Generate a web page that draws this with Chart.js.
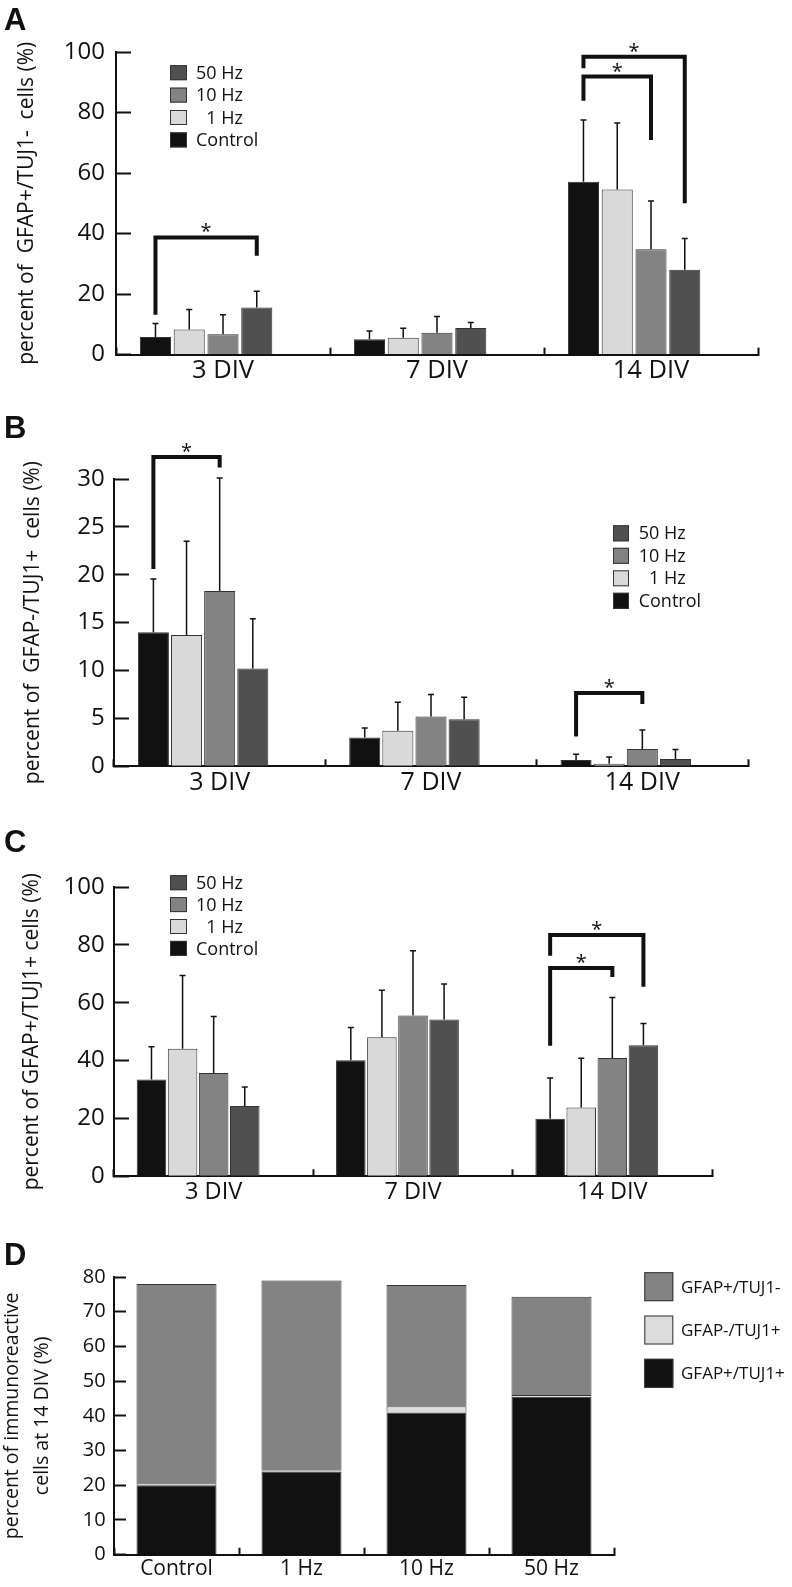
<!DOCTYPE html>
<html>
<head>
<meta charset="utf-8">
<script src="https://cdn.jsdelivr.net/npm/chart.js@4.4.1/dist/chart.umd.min.js"></script>
<style>
  body { margin: 0; background: #fff; width: 792px; height: 1587px; overflow: hidden; position: relative; }
  .panel { position: absolute; left: 0; width: 792px; }
</style>
</head>
<body>
<div class="panel" style="top:0;height:395px"><canvas id="chartA"></canvas></div>
<div class="panel" style="top:390px;height:415px"><canvas id="chartB"></canvas></div>
<div class="panel" style="top:800px;height:415px"><canvas id="chartC"></canvas></div>
<div class="panel" style="top:1200px;height:387px"><canvas id="chartD"></canvas></div>
<script>
// categories and series
const divLabels = ['3 DIV', '7 DIV', '14 DIV'];
const freqLabels = ['Control', '1 Hz', '10 Hz', '50 Hz'];

// one row per frequency, one value per DIV (mean and upper SD)
const aMean = [[5.8, 5.1, 57.1], [8.3, 5.6, 54.6], [6.7, 7.2, 34.8], [15.6, 8.8, 28.0]];
const aSD   = [[4.5, 2.7, 20.4], [6.6, 3.1, 21.9], [6.5, 5.4, 16.0], [5.3, 1.8, 10.4]];
const bMean = [[14.0, 3.0, 0.67], [13.7, 3.7, 0.27], [18.3, 5.2, 1.8], [10.2, 4.9, 0.75]];
const bSD   = [[5.55, 1.0, 0.6], [9.8, 3.0, 0.7], [11.8, 2.3, 2.0], [5.2, 2.3, 1.0]];
const cMean = [[33.5, 40.1, 19.9], [44.1, 48.1, 23.8], [35.7, 55.6, 40.9], [24.3, 54.2, 45.3]];
const cSD   = [[11.3, 11.3, 14.1], [25.3, 16.2, 17.0], [19.5, 22.4, 20.9], [6.6, 12.3, 7.5]];

// significance brackets: [DIV index, from series, to series, top, from leg end, to leg end]
const aSig = [[0, 0, 3, 38.7, 13.2, 32.7], [2, 0, 2, 91.9, 83.9, 70.9], [2, 0, 3, 98.4, 94.6, 50.0]];
const bSig = [[0, 0, 2, 32.3, 20.6, 31.2], [2, 0, 2, 7.65, 3.1, 6.5]];
const cSig = [[2, 0, 2, 72.0, 45.1, 68.9], [2, 0, 3, 83.4, 76.2, 65.5]];

// panel D: cell types at 14 DIV, stacked
const dLabels = ['GFAP+/TUJ1+', 'GFAP-/TUJ1+', 'GFAP+/TUJ1-'];
const dDouble = [20.0, 24.0, 41.0, 45.5];
const dNeuron = [0.6, 0.2, 1.8, 0.5];
const dGlia   = [57.4, 54.8, 34.9, 28.3];

const freqColors = ['#111111', '#d9d9d9', '#838383', '#505050'];
const dColors = ['#111111', '#dcdcdc', '#838383'];
const ink = '#111';
const font = '"Open Sans"';

// error bars, brackets, legend and panel letter
const extras = {
  id: 'extras',
  afterDatasetsDraw(chart) {
    const ctx = chart.ctx, y = chart.scales.y;
    ctx.save();
    ctx.strokeStyle = ink;
    ctx.lineWidth = 1.5;
    chart.data.datasets.forEach((ds, i) => {
      if (!ds.errors) return;
      chart.getDatasetMeta(i).data.forEach((bar, j) => {
        const top = y.getPixelForValue(ds.data[j] + ds.errors[j]);
        ctx.beginPath();
        ctx.moveTo(bar.x, bar.y);
        ctx.lineTo(bar.x, top);
        ctx.moveTo(bar.x - 3, top);
        ctx.lineTo(bar.x + 3, top);
        ctx.stroke();
      });
    });
    ctx.restore();
  },
  afterDraw(chart, args, opts) {
    const ctx = chart.ctx, y = chart.scales.y;
    ctx.save();
    ctx.strokeStyle = ink;
    ctx.fillStyle = ink;
    ctx.lineWidth = 4;
    ctx.lineJoin = 'miter';
    ctx.font = '20px ' + font;
    ctx.textAlign = 'center';
    ctx.textBaseline = 'alphabetic';
    (opts.brackets || []).forEach(([cat, a, b, top, aEnd, bEnd]) => {
      const xa = chart.getDatasetMeta(a).data[cat].x;
      const xb = chart.getDatasetMeta(b).data[cat].x;
      const ty = y.getPixelForValue(top);
      ctx.beginPath();
      ctx.moveTo(xa, y.getPixelForValue(aEnd));
      ctx.lineTo(xa, ty);
      ctx.lineTo(xb, ty);
      ctx.lineTo(xb, y.getPixelForValue(bEnd));
      ctx.stroke();
      ctx.fillText('*', (xa + xb) / 2, ty + 1);
    });

    const lg = opts.legend;
    if (lg) {
      ctx.lineWidth = 1;
      ctx.strokeStyle = '#333';
      ctx.textAlign = 'left';
      ctx.textBaseline = 'middle';
      ctx.font = lg.size + 'px ' + font;
      const items = chart.data.datasets.filter(ds => ds.label).reverse();
      items.forEach((ds, k) => {
        const cy = lg.y + k * lg.step;
        ctx.fillStyle = ds.backgroundColor;
        ctx.fillRect(lg.x, cy - lg.h / 2, lg.w, lg.h);
        ctx.strokeRect(lg.x + 0.5, cy - lg.h / 2 + 0.5, lg.w - 1, lg.h - 1);
        ctx.fillStyle = ink;
        ctx.fillText(ds.legendText || ds.label, lg.textX, cy + 1);
      });
    }

    ctx.fillStyle = ink;
    ctx.textAlign = 'left';
    ctx.textBaseline = 'alphabetic';
    ctx.font = 'bold 31px "Liberation Sans"';
    ctx.fillText(opts.letter, 4, opts.letterY);
    ctx.restore();
  }
};

function axes(o) {
  return {
    x: {
      grid: { drawOnChartArea: false, offset: true, tickLength: -7, tickWidth: 2, tickColor: ink },
      border: { color: ink, width: 2 },
      ticks: { color: ink, padding: o.xPad, font: { family: font, size: o.xSize } },
      stacked: !!o.stacked,
      afterFit: s => { s.height = o.xHeight; }
    },
    y: {
      min: 0, max: o.max,
      stacked: !!o.stacked,
      ticks: { stepSize: o.step, color: ink, padding: o.yPad, font: { family: font, size: o.ySize } },
      grid: { drawOnChartArea: false, tickLength: -o.tick, tickWidth: 2, tickColor: ink },
      border: { color: ink, width: 2 },
      title: {
        display: true, text: o.title, color: ink,
        font: { family: font, size: o.titleSize, lineHeight: o.titleLine || 1.2 },
        padding: { top: o.titlePad, bottom: 0 }
      },
      afterFit: s => { s.width = o.yWidth; }
    }
  };
}

function grouped(id, means, sds, sig, o) {
  const datasets = freqLabels.map((label, i) => ({
    label: label,
    legendText: label === '1 Hz' ? '\u20071 Hz' : label,
    data: means[i],
    errors: sds[i],
    backgroundColor: freqColors[i],
    borderColor: '#333',
    borderWidth: 1,
    barPercentage: o.barPct,
    categoryPercentage: o.catPct
  }));
  // empty fifth slot: the groups in the original sit left of the category centre
  datasets.push({ label: '', data: divLabels.map(() => null), barPercentage: o.barPct, categoryPercentage: o.catPct });

  return new Chart(document.getElementById(id), {
    type: 'bar',
    data: { labels: divLabels, datasets: datasets },
    options: {
      responsive: true,
      maintainAspectRatio: false,
      animation: false,
      layout: { padding: { top: o.padTop, right: o.padRight, left: 0, bottom: 0 } },
      scales: axes(o),
      plugins: {
        legend: { display: false },
        tooltip: { enabled: false },
        extras: { brackets: sig, legend: o.legend, letter: o.letter, letterY: o.letterY }
      }
    },
    plugins: [extras]
  });
}

grouped('chartA', aMean, aSD, aSig, {
  letter: 'A', letterY: 30, padTop: 52, padRight: 34, yWidth: 116, xHeight: 38,
  max: 100, step: 20, tick: 15, yPad: 26, ySize: 24, xSize: 25.5, xPad: 8,
  barPct: 0.92, catPct: 0.789,
  title: 'percent of  GFAP+/TUJ1-  cells (%)', titleSize: 21, titlePad: 14.4,
  legend: { x: 170, y: 72.7, step: 22.4, w: 17, h: 15, textX: 196, size: 18 }
});

grouped('chartB', bMean, bSD, bSig, {
  letter: 'B', letterY: 48, padTop: 89, padRight: 44, yWidth: 114, xHeight: 32,
  max: 30, step: 5, tick: 15, yPad: 24.3, ySize: 24, xSize: 25, xPad: 8.2,
  barPct: 0.937, catPct: 0.784,
  title: 'percent of  GFAP-/TUJ1+  cells (%)', titleSize: 21, titlePad: 20.4,
  legend: { x: 613, y: 143.3, step: 22.5, w: 16, h: 16, textX: 638.7, size: 18 }
});

grouped('chartC', cMean, cSD, cSig, {
  letter: 'C', letterY: 52, padTop: 87, padRight: 80, yWidth: 114, xHeight: 37,
  max: 100, step: 20, tick: 15, yPad: 24.3, ySize: 24, xSize: 23.5, xPad: 9,
  barPct: 0.95, catPct: 0.78,
  title: 'percent of GFAP+/TUJ1+ cells (%)', titleSize: 21, titlePad: 19.1,
  legend: { x: 170, y: 82.7, step: 21.9, w: 17, h: 15, textX: 196, size: 18 }
});

new Chart(document.getElementById('chartD'), {
  type: 'bar',
  data: {
    labels: freqLabels,
    datasets: [dDouble, dNeuron, dGlia].map((vals, i) => ({
      label: dLabels[i],
      data: vals,
      backgroundColor: dColors[i],
      borderColor: '#333',
      borderWidth: 1,
      barPercentage: 0.64,
      categoryPercentage: 1
    }))
  },
  options: {
    responsive: true,
    maintainAspectRatio: false,
    animation: false,
    layout: { padding: { top: 77, right: 178, left: 0, bottom: 0 } },
    scales: axes({
      stacked: true, max: 80, step: 10, tick: 12, yPad: 20.3, ySize: 20, xSize: 21, xPad: 9,
      yWidth: 114, xHeight: 23,
      title: ['percent of immunoreactive', 'cells at 14 DIV (%)'], titleSize: 19.5, titleLine: 1.54, titlePad: -3
    }),
    plugins: {
      legend: { display: false },
      tooltip: { enabled: false },
      extras: { letter: 'D', letterY: 65, legend: { x: 644.3, y: 86.7, step: 43.3, w: 29, h: 29, textX: 681, size: 17 } }
    }
  },
  plugins: [extras]
});
</script>
</body>
</html>
